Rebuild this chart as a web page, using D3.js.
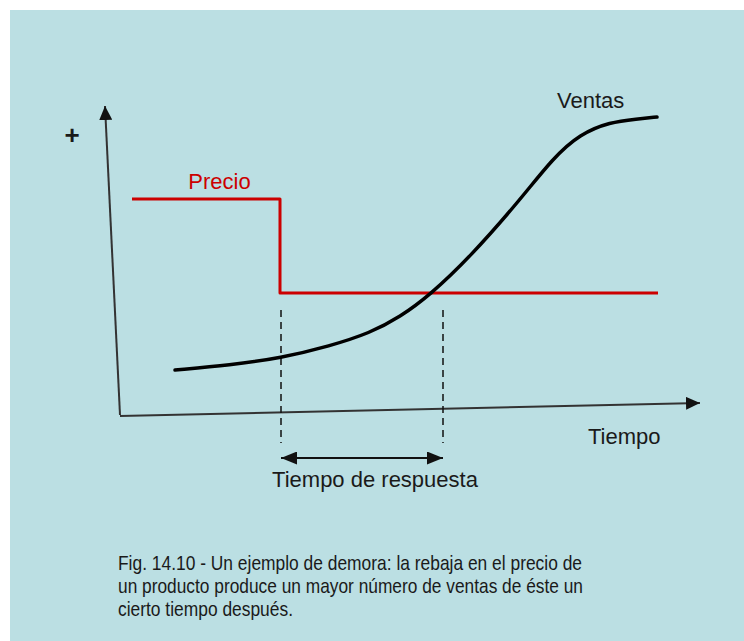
<!DOCTYPE html>
<html lang="es">
<head>
<meta charset="UTF-8">
<title>Fig. 14.10 - Demora</title>
<script src="https://d3js.org/d3.v7.min.js"></script>
<style>
  html, body { margin: 0; padding: 0; background: #fff; }
  svg { display: block; font-family: "Liberation Sans", Arial, sans-serif; }
  .lbl { fill: #1a1a1a; font-size: 22px; }
</style>
</head>
<body>
<div id="chart"></div>
<script>
// Ventas curve (time, level)
const salesT = [5.5, 11, 16.1, 21, 25, 28, 31, 35, 40, 43.3, 46, 49, 51.7, 53.7];
const salesV = [4.6, 5.1, 5.8, 7.0, 8.3, 9.9, 12.1, 15.9, 21.6, 25.8, 28.2, 29.4, 29.7, 29.9];

// Precio step: high, then cut at t=16
const priceT = [1.2, 16, 53.8];
const priceV = [21.7, 12.3, 12.3];

// response delay: price cut -> sales cross
const lagT = [16.1, 32.3];

const captionLines = [
  "Fig. 14.10 - Un ejemplo de demora: la rebaja en el precio de",
  "un producto produce un mayor número de ventas de éste un",
  "cierto tiempo después."
];

const W = 744, H = 641;
const svg = d3.select("#chart").append("svg")
  .attr("width", W).attr("height", H);

svg.append("rect")
  .attr("x", 10).attr("y", 10)
  .attr("width", W - 10).attr("height", H - 10)
  .attr("fill", "#bbdfe3");

const defs = svg.append("defs");
function marker(id, len, wid) {
  defs.append("marker")
    .attr("id", id)
    .attr("viewBox", `0 0 ${len} ${wid}`)
    .attr("refX", len).attr("refY", wid / 2)
    .attr("markerWidth", len).attr("markerHeight", wid)
    .attr("markerUnits", "userSpaceOnUse")
    .attr("orient", "auto-start-reverse")
    .append("path")
    .attr("d", `M0,0L${len},${wid / 2}L0,${wid}Z`)
    .attr("fill", "#111");
}
marker("axisHead", 14, 13);
marker("lagHead", 16, 13);

const x = d3.scaleLinear().domain([0, 58]).range([120, 700]);
const y = d3.scaleLinear().domain([0, 31]).range([416, 106]);

// axes (slightly skewed, hand drawn look)
svg.append("line")
  .attr("x1", x(0)).attr("y1", y(0.1))
  .attr("x2", x(-1.5)).attr("y2", y(31))
  .attr("stroke", "#333").attr("stroke-width", 2)
  .attr("marker-end", "url(#axisHead)");
svg.append("line")
  .attr("x1", x(0)).attr("y1", y(0))
  .attr("x2", x(58)).attr("y2", y(1.3))
  .attr("stroke", "#333").attr("stroke-width", 2)
  .attr("marker-end", "url(#axisHead)");

// dashed delay lines
svg.selectAll(".lag")
  .data(lagT)
  .enter().append("line")
  .attr("class", "lag")
  .attr("x1", d => x(d)).attr("x2", d => x(d))
  .attr("y1", y(10.6)).attr("y2", y(-2.7))
  .attr("stroke", "#111").attr("stroke-width", 1.5)
  .attr("stroke-dasharray", "7,5");

// double arrow
svg.append("line")
  .attr("x1", x(lagT[0])).attr("x2", x(lagT[1]))
  .attr("y1", y(-4.2)).attr("y2", y(-4.2))
  .attr("stroke", "#111").attr("stroke-width", 2)
  .attr("marker-start", "url(#lagHead)")
  .attr("marker-end", "url(#lagHead)");

// price
const priceLine = d3.line()
  .x((d, i) => x(priceT[i]))
  .y((d, i) => y(priceV[i]))
  .curve(d3.curveStepAfter);
svg.append("path")
  .attr("d", priceLine(priceT))
  .attr("fill", "none")
  .attr("stroke", "#cc0000").attr("stroke-width", 3)
  .attr("stroke-linejoin", "round");

// sales
const salesLine = d3.line()
  .x((d, i) => x(salesT[i]))
  .y((d, i) => y(salesV[i]))
  .curve(d3.curveBasis);
svg.append("path")
  .attr("d", salesLine(salesT))
  .attr("fill", "none")
  .attr("stroke", "#000").attr("stroke-width", 3.5)
  .attr("stroke-linecap", "round");

// labels
svg.append("text").attr("class", "lbl")
  .attr("x", x(-4.8)).attr("y", y(28.1))
  .attr("text-anchor", "middle").attr("dominant-baseline", "central")
  .style("font-size", "26px").style("font-weight", "bold")
  .text("+");
svg.append("text").attr("class", "lbl")
  .attr("x", x(9.95)).attr("y", y(22.7))
  .attr("text-anchor", "middle")
  .style("fill", "#cc0000")
  .text("Precio");
svg.append("text").attr("class", "lbl")
  .attr("x", x(43.7)).attr("y", y(30.8))
  .text("Ventas");
svg.append("text").attr("class", "lbl")
  .attr("x", x(46.8)).attr("y", y(-2.8))
  .text("Tiempo");
svg.append("text").attr("class", "lbl")
  .attr("x", x(25.5)).attr("y", y(-7.1))
  .attr("text-anchor", "middle")
  .text("Tiempo de respuesta");

// caption
const capWidths = [464, 465, 175];
svg.selectAll(".cap")
  .data(captionLines)
  .enter().append("text")
  .attr("class", "lbl cap")
  .attr("x", 118)
  .attr("y", (d, i) => 570 + i * 23)
  .attr("textLength", (d, i) => capWidths[i])
  .attr("lengthAdjust", "spacingAndGlyphs")
  .style("font-size", "21px")
  .text(d => d);
</script>
</body>
</html>
